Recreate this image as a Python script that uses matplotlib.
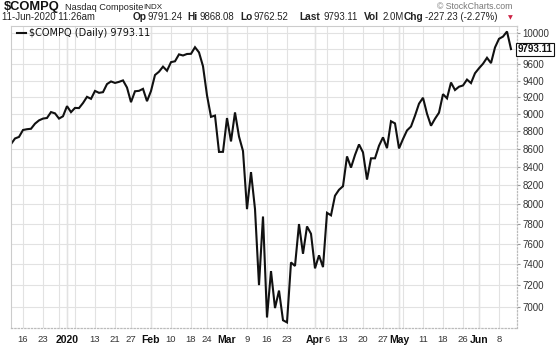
import matplotlib.pyplot as plt
from matplotlib.ticker import FixedLocator, NullLocator

plt.rcParams["font.family"] = ["Liberation Sans", "DejaVu Sans"]

# daily closes, $COMPQ, 11-Dec-2019 .. 11-Jun-2020
dates = [
    "2019-12-11", "2019-12-12", "2019-12-13", "2019-12-16", "2019-12-17", "2019-12-18",
    "2019-12-19", "2019-12-20", "2019-12-23", "2019-12-24", "2019-12-26", "2019-12-27",
    "2019-12-30", "2019-12-31",
    "2020-01-02", "2020-01-03", "2020-01-06", "2020-01-07", "2020-01-08", "2020-01-09",
    "2020-01-10", "2020-01-13", "2020-01-14", "2020-01-15", "2020-01-16", "2020-01-17",
    "2020-01-21", "2020-01-22", "2020-01-23", "2020-01-24", "2020-01-27", "2020-01-28",
    "2020-01-29", "2020-01-30", "2020-01-31",
    "2020-02-03", "2020-02-04", "2020-02-05", "2020-02-06", "2020-02-07", "2020-02-10",
    "2020-02-11", "2020-02-12", "2020-02-13", "2020-02-14", "2020-02-18", "2020-02-19",
    "2020-02-20", "2020-02-21", "2020-02-24", "2020-02-25", "2020-02-26", "2020-02-27",
    "2020-02-28",
    "2020-03-02", "2020-03-03", "2020-03-04", "2020-03-05", "2020-03-06", "2020-03-09",
    "2020-03-10", "2020-03-11", "2020-03-12", "2020-03-13", "2020-03-16", "2020-03-17",
    "2020-03-18", "2020-03-19", "2020-03-20", "2020-03-23", "2020-03-24", "2020-03-25",
    "2020-03-26", "2020-03-27", "2020-03-30", "2020-03-31",
    "2020-04-01", "2020-04-02", "2020-04-03", "2020-04-06", "2020-04-07", "2020-04-08",
    "2020-04-09", "2020-04-13", "2020-04-14", "2020-04-15", "2020-04-16", "2020-04-17",
    "2020-04-20", "2020-04-21", "2020-04-22", "2020-04-23", "2020-04-24", "2020-04-27",
    "2020-04-28", "2020-04-29", "2020-04-30",
    "2020-05-01", "2020-05-04", "2020-05-05", "2020-05-06", "2020-05-07", "2020-05-08",
    "2020-05-11", "2020-05-12", "2020-05-13", "2020-05-14", "2020-05-15", "2020-05-18",
    "2020-05-19", "2020-05-20", "2020-05-21", "2020-05-22", "2020-05-26", "2020-05-27",
    "2020-05-28", "2020-05-29",
    "2020-06-01", "2020-06-02", "2020-06-03", "2020-06-04", "2020-06-05", "2020-06-08",
    "2020-06-09", "2020-06-10", "2020-06-11",
]
closes = [
    8654, 8717, 8735, 8814, 8823, 8828, 8887, 8925, 8946, 8953, 9022, 9007, 8946, 8973,
    9092, 9021, 9071, 9069, 9129, 9203, 9179, 9274, 9251, 9259, 9357, 9389, 9371, 9384,
    9402, 9315, 9139, 9270, 9275, 9299, 9151,
    9273, 9468, 9509, 9572, 9521, 9628, 9639, 9726, 9712, 9731, 9733, 9817, 9751, 9577,
    9221, 8966, 8981, 8566, 8567,
    8952, 8684, 9018, 8739, 8576, 7951, 8344, 7952, 7202, 7875, 6905, 7335, 6990, 7151,
    6880, 6861, 7418, 7384, 7798, 7502, 7774, 7700,
    7361, 7487, 7373, 7913, 7887, 8091, 8154, 8192, 8516, 8393, 8532, 8650, 8561, 8263,
    8495, 8495, 8635, 8730, 8608, 8915, 8890,
    8605, 8711, 8809, 8854, 8980, 9121, 9192, 9003, 8863, 8944, 9015, 9235, 9185, 9376,
    9285, 9325, 9340, 9412, 9369, 9490,
    9552, 9608, 9683, 9616, 9814, 9925, 9954, 10020, 9793.11,
]

# x axis marks (weeks and months)
tick_dates = [
    "2019-12-16", "2019-12-23", "2019-12-30", "2020-01-02", "2020-01-06", "2020-01-13",
    "2020-01-21", "2020-01-27", "2020-02-03", "2020-02-10", "2020-02-18", "2020-02-24",
    "2020-03-02", "2020-03-09", "2020-03-16", "2020-03-23", "2020-04-01", "2020-04-06",
    "2020-04-13", "2020-04-20", "2020-04-27", "2020-05-01", "2020-05-04", "2020-05-11",
    "2020-05-18", "2020-05-26", "2020-06-01", "2020-06-08",
]
tick_labels = [
    "16", "23", "", "2020", "", "13", "21", "27", "Feb", "10", "18", "24",
    "Mar", "9", "16", "23", "Apr", "6", "13", "20", "27", "May", "", "11",
    "18", "26", "Jun", "8",
]
bold_labels = ["2020", "Feb", "Mar", "Apr", "May", "Jun"]
y_ticks = [7000, 7200, 7400, 7600, 7800, 8000, 8200, 8400, 8600, 8800,
           9000, 9200, 9400, 9600, 9800, 10000]
last_close = 9793.11

W, H = 560, 347
fig = plt.figure(figsize=(W / 100, H / 100), dpi=100)
ax = fig.add_axes([11 / W, 1 - 328 / H, 506 / W, 302 / H])

x = list(range(len(closes)))
ax.plot(x, closes, color="#111111", lw=1.5, solid_joinstyle="miter")

ax.set_yscale("log")
ax.set_ylim(6811, 10092)
ax.set_xlim(0, 126.5)

# y axis on the right
ax.yaxis.set_major_locator(FixedLocator(y_ticks))
ax.yaxis.set_minor_locator(NullLocator())
ax.set_yticks(y_ticks)
ax.set_yticklabels(["" if v == 9800 else str(v) for v in y_ticks])
ax.yaxis.tick_right()
ax.tick_params(axis="y", length=2, color="#999999", pad=2, labelsize=7, labelcolor="#333333")

tick_pos = [dates.index(d) for d in tick_dates]
ax.set_xticks(tick_pos)
ax.set_xticklabels(tick_labels)
ax.tick_params(axis="x", length=0, pad=5, labelsize=6.8, labelcolor="#333333")
for lbl in ax.get_xticklabels():
    if lbl.get_text() in bold_labels:
        lbl.set_fontweight("bold")
        lbl.set_fontsize(7.5)
        lbl.set_color("#111111")

ax.grid(True, color="#e2e2e2", lw=0.8)
ax.set_axisbelow(True)
for p, lab in zip(tick_pos, tick_labels):
    if lab in bold_labels:
        ax.axvline(p, color="#cccccc", lw=0.9, zorder=0.5)

for side in ["left", "top"]:
    ax.spines[side].set_color("#cccccc")
    ax.spines[side].set_linewidth(0.8)
for side in ["right", "bottom"]:
    ax.spines[side].set_color("#bbbbbb")
    ax.spines[side].set_linestyle(":")
    ax.spines[side].set_linewidth(0.9)

# last value box on the price axis
ax.annotate(f"{last_close:.2f}", xy=(1.0, last_close), xycoords=("axes fraction", "data"),
            xytext=(0.5, 0), textcoords="offset points", ha="left", va="center",
            fontsize=7, fontweight="bold", color="#111111",
            bbox=dict(boxstyle="square,pad=0.15", fc="white", ec="#111111", lw=0.8))

# legend line in the plot
ax.plot([0.012, 0.03], [0.977, 0.977], transform=ax.transAxes, color="#111111", lw=1.5)
ax.text(0.036, 0.977, f"$COMPQ (Daily) {last_close:.2f}", transform=ax.transAxes,
        fontsize=7, family="DejaVu Sans", va="center", ha="left", color="#111111")

# header
def px(xp, yp):
    return xp / W, 1 - yp / H

fig.text(*px(4, 7.3), "$COMPQ", fontsize=9.3, fontweight="bold", va="center", color="#111111")
fig.text(*px(65, 7.5), "Nasdaq Composite", fontsize=6.6, va="center", color="#222222")
fig.text(*px(143, 7.5), "INDX", fontsize=5.8, va="center", color="#222222")
fig.text(*px(437, 6.5), "\u00a9 StockCharts.com", fontsize=6.3, va="center", color="#777777")

header2 = [
    (2, "11-Jun-2020 11:26am", False),
    (133, "Op", True), (147, "9791.24", False),
    (187, "Hi", True), (200, "9868.08", False),
    (240, "Lo", True), (253, "9762.52", False),
    (299, "Last", True), (323, "9793.11", False),
    (364, "Vol", True), (383, "2.0M", False),
    (404, "Chg", True), (425, "-227.23 (-2.27%)", False),
]
for xp, s, b in header2:
    fig.text(*px(xp, 17), s, fontsize=7.3 if b else 6.9,
             fontweight="bold" if b else "normal", va="center", color="#222222")
fig.text(*px(510, 17.5), "\u25bc", fontsize=4.5, va="center", ha="center", color="#cc2244",
         family="DejaVu Sans")

fig.savefig("out.png", dpi=100)
